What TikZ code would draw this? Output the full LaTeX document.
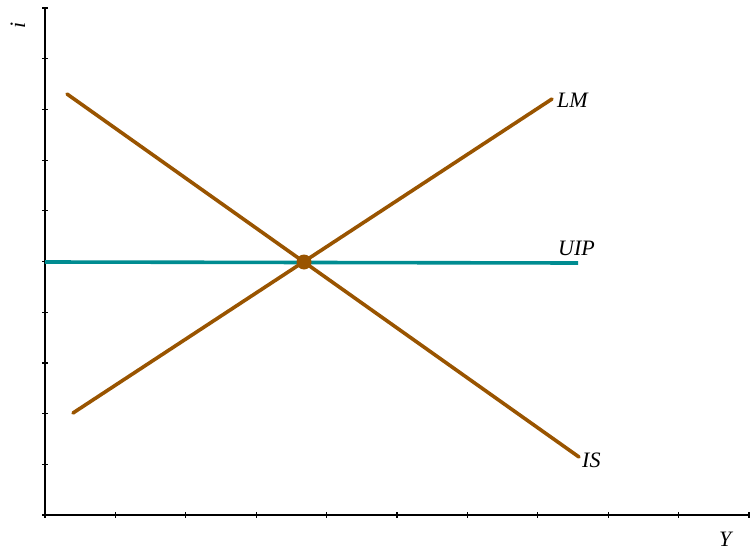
\documentclass[tikz,border=0pt]{standalone}
\usepackage{fontspec}
\setmainfont{Liberation Serif}
\definecolor{curvebrown}{RGB}{153,84,0}
\definecolor{uipteal}{RGB}{0,140,145}
\begin{document}
\begin{tikzpicture}[x=1pt,y=-1pt,
  axisline/.style={line width=1.4pt,black},
  tickmark/.style={line width=1.2pt,black},
  curve/.style={line width=3.6pt,curvebrown,line cap=round},
  uipline/.style={line width=3.6pt,uipteal},
  lbl/.style={font=\fontsize{22}{26}\selectfont\itshape,inner sep=0pt}]
\useasboundingbox (0,0) rectangle (750,551);
% axes
\coordinate (O) at (45,515);
\coordinate (Ytop) at (45,8);
\coordinate (Xend) at (749,515);
\draw[axisline] (Ytop) -- (O) -- (Xend);
\foreach \k in {0,...,10}{
  \draw[tickmark] (42,{515-50.7*\k}) -- (48,{515-50.7*\k});
  \draw[tickmark] ({45+70.4*\k},512) -- ({45+70.4*\k},518);
}
% curves
\coordinate (ISa) at (67,94);
\coordinate (ISb) at (579,457);
\coordinate (LMa) at (73,413);
\coordinate (LMb) at (552,99);
\coordinate (UIPa) at (45,262);
\coordinate (UIPb) at (578,263);
\coordinate (E) at (304,262);
\draw[uipline] (UIPa) -- (UIPb);
\draw[curve] (ISa) -- (ISb);
\draw[curve] (LMa) -- (LMb);
\fill[curvebrown] (E) circle (7.5);
% labels
\node[lbl,anchor=base west] (lm) at (557,107) {LM};
\node[lbl,anchor=base west] (uip) at (558,255) {UIP};
\node[lbl,anchor=base west] (is) at (582,467) {IS};
\node[lbl,anchor=base west] (yl) at (719,546) {Y};
\node[lbl,anchor=base west,rotate=90] (il) at (25,29) {i};
\end{tikzpicture}
\end{document}
